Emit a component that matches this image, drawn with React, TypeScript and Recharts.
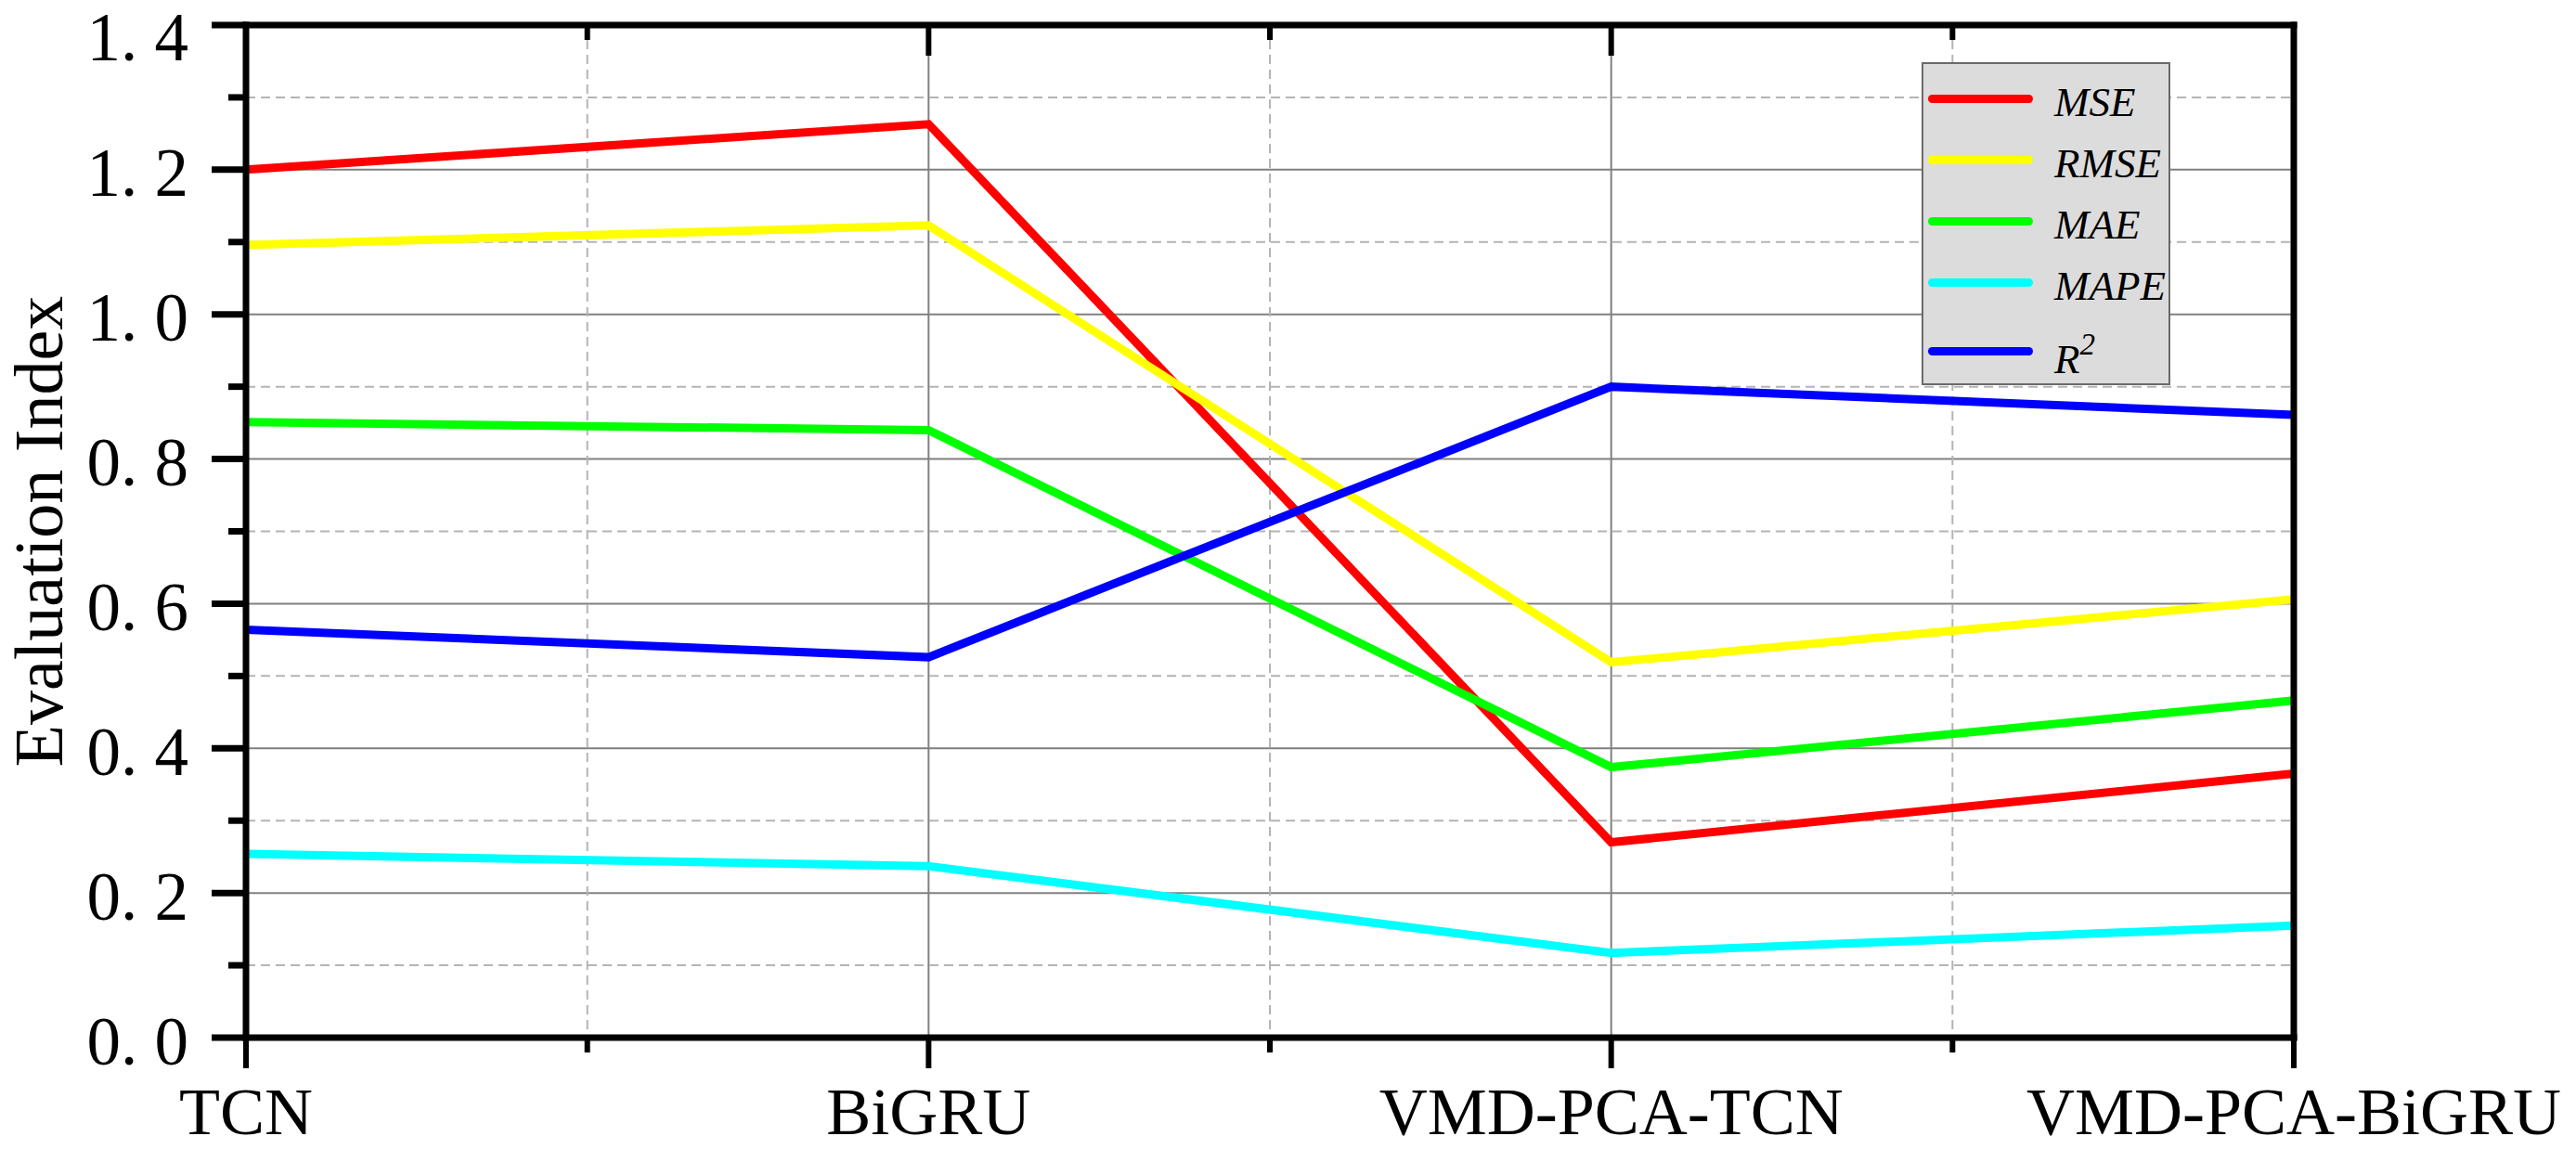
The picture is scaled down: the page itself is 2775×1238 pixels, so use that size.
import { LineChart, Line, XAxis, YAxis, CartesianGrid, Legend } from "recharts";

const categories = ["TCN", "BiGRU", "VMD-PCA-TCN", "VMD-PCA-BiGRU"];
const mse = [1.2, 1.263, 0.27, 0.365];
const rmse = [1.096, 1.123, 0.519, 0.606];
const mae = [0.851, 0.84, 0.374, 0.466];
const mape = [0.254, 0.237, 0.117, 0.155];
const r2 = [0.564, 0.526, 0.9, 0.861];

const yTicks = [0, 0.1, 0.2, 0.3, 0.4, 0.5, 0.6, 0.7, 0.8, 0.9, 1.0, 1.1, 1.2, 1.3, 1.4];
const yMajorGrid = [0.2, 0.4, 0.6, 0.8, 1.0, 1.2];
const yMinorGrid = [0.1, 0.3, 0.5, 0.7, 0.9, 1.1, 1.3];
const xTicks = [0, 0.5, 1, 1.5, 2, 2.5, 3];
const xMajorGrid = [1, 2];
const xMinorGrid = [0.5, 1.5, 2.5];

const series = [
  { key: "MSE", label: "MSE", color: "#ff0000" },
  { key: "RMSE", label: "RMSE", color: "#ffff00" },
  { key: "MAE", label: "MAE", color: "#00ff00" },
  { key: "MAPE", label: "MAPE", color: "#00ffff" },
  { key: "R2", label: "R", sup: "2", color: "#0000ff" },
];

const data = categories.map((name, i) => ({
  x: i,
  name,
  MSE: mse[i],
  RMSE: rmse[i],
  MAE: mae[i],
  MAPE: mape[i],
  R2: r2[i],
}));

const FONT = "'Liberation Serif', 'Times New Roman', serif";
const axisLine = { stroke: "#000", strokeWidth: 7, strokeLinecap: "square" as const };

const isMajorY = (v: number) => Math.round(v * 10) % 2 === 0;
const isMajorX = (v: number) => Number.isInteger(v);

function LeftTick({ x, y, payload }: any) {
  const major = isMajorY(payload.value);
  // keep the top label inside the picture
  const ty = Math.max(y + 4, 40);
  return (
    <g>
      <line x1={x} y1={y} x2={x - (major ? 37 : 19)} y2={y} stroke="#000" strokeWidth={7} />
      {major && (
        <text
          x={x - 62}
          y={ty}
          textAnchor="end"
          dominantBaseline="central"
          fontFamily={FONT}
          fontSize={73}
          fill="#000"
        >
          {payload.value.toFixed(1).replace(".", ". ")}
        </text>
      )}
    </g>
  );
}

function RightTick({ x, y, payload }: any) {
  const major = isMajorY(payload.value);
  return <line x1={x} y1={y} x2={x - (major ? 34 : 17)} y2={y} stroke="#000" strokeWidth={7} />;
}

function BottomTick({ x, y, payload }: any) {
  const major = isMajorX(payload.value);
  return (
    <g>
      <line x1={x} y1={y} x2={x} y2={y + (major ? 33 : 16)} stroke="#000" strokeWidth={6} />
      {major && (
        <text x={x} y={y + 104} textAnchor="middle" fontFamily={FONT} fontSize={72} fill="#000">
          {categories[payload.value]}
        </text>
      )}
    </g>
  );
}

function TopTick({ x, y, payload }: any) {
  const major = isMajorX(payload.value);
  return <line x1={x} y1={y} x2={x} y2={y + (major ? 33 : 16)} stroke="#000" strokeWidth={6} />;
}

function renderLegend() {
  return (
    <div
      style={{
        boxSizing: "border-box",
        width: 268,
        height: 348,
        background: "#dcdcdc",
        border: "2px solid #6a6a6a",
        paddingTop: 4,
      }}
    >
      {series.map((s) => (
        <div
          key={s.key}
          style={{
            display: "flex",
            alignItems: "center",
            height: 66,
            marginTop: s.sup ? 8 : 0,
          }}
        >
          <div
            style={{
              marginLeft: 5,
              width: 113,
              height: 9,
              borderRadius: 5,
              background: s.color,
            }}
          />
          <span
            style={{
              marginLeft: 23,
              fontFamily: FONT,
              fontStyle: "italic",
              fontSize: 45,
              lineHeight: 1,
              paddingTop: 8,
              color: "#000",
            }}
          >
            {s.label}
            {s.sup && <sup style={{ fontSize: 33, verticalAlign: "0.6em" }}>{s.sup}</sup>}
          </span>
        </div>
      ))}
    </div>
  );
}

export default function App() {
  return (
    <div style={{ position: "absolute", left: 0, top: 0, background: "#fff" }}>
      <LineChart
        width={2775}
        height={1238}
        data={data}
        margin={{ top: 26, right: 303, left: 0, bottom: 0 }}
      >
        <CartesianGrid
          xAxisId="bottom"
          yAxisId="left"
          horizontalValues={yMajorGrid}
          verticalValues={xMajorGrid}
          stroke="#808080"
          strokeWidth={2}
        />
        <CartesianGrid
          xAxisId="bottom"
          yAxisId="left"
          horizontalValues={yMinorGrid}
          verticalValues={xMinorGrid}
          stroke="#b4b4b4"
          strokeWidth={2}
          strokeDasharray="10 6"
        />
        <XAxis
          xAxisId="bottom"
          type="number"
          dataKey="x"
          domain={[0, 3]}
          ticks={xTicks}
          interval={0}
          height={120}
          tickSize={0}
          tickMargin={0}
          tickLine={false}
          axisLine={axisLine}
          tick={<BottomTick />}
        />
        <XAxis
          xAxisId="top"
          orientation="top"
          type="number"
          domain={[0, 3]}
          ticks={xTicks}
          interval={0}
          height={1}
          tickSize={0}
          tickMargin={0}
          tickLine={false}
          axisLine={axisLine}
          tick={<TopTick />}
        />
        <YAxis
          yAxisId="left"
          type="number"
          domain={[0, 1.4]}
          ticks={yTicks}
          interval={0}
          width={265}
          tickSize={0}
          tickMargin={0}
          tickLine={false}
          axisLine={axisLine}
          tick={<LeftTick />}
          label={{
            content: ({ viewBox }: any) => {
              const cy = viewBox.y + viewBox.height / 2;
              return (
                <text
                  x={67}
                  y={cy}
                  transform={`rotate(-90, 67, ${cy})`}
                  textAnchor="middle"
                  fontFamily={FONT}
                  fontSize={74}
                  fill="#000"
                >
                  Evaluation Index
                </text>
              );
            },
          }}
        />
        <YAxis
          yAxisId="right"
          orientation="right"
          type="number"
          domain={[0, 1.4]}
          ticks={yTicks}
          interval={0}
          width={1}
          tickSize={0}
          tickMargin={0}
          tickLine={false}
          axisLine={axisLine}
          tick={<RightTick />}
        />
        {series.map((s) => (
          <Line
            key={s.key}
            xAxisId="bottom"
            yAxisId="left"
            type="linear"
            dataKey={s.key}
            name={s.key}
            stroke={s.color}
            strokeWidth={9}
            strokeLinejoin="miter"
            dot={false}
            activeDot={false}
            isAnimationActive={false}
          />
        ))}
        <Legend
          layout="vertical"
          align="center"
          verticalAlign="middle"
          content={renderLegend}
          wrapperStyle={{ position: "absolute", left: 2070, top: 67, width: 268, height: 348 }}
        />
      </LineChart>
    </div>
  );
}
